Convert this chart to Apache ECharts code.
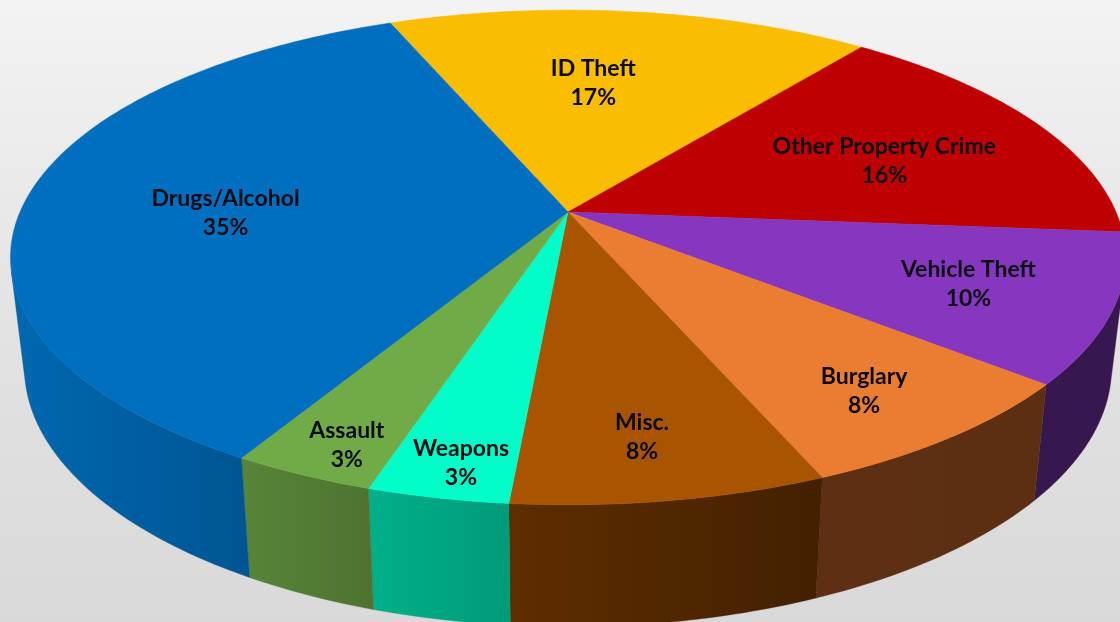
<!DOCTYPE html>
<html>
<head>
<meta charset="utf-8">
<style>html,body{margin:0;padding:0;background:#e6e6e6}#c{width:1120px;height:622px}</style>
<script src="https://cdn.jsdelivr.net/npm/echarts@6/dist/echarts.min.js"></script>
</head>
<body>
<div id="c"></div>
<script>
// Data (clockwise from the ID Theft slice)
const categories = ['ID Theft','Other Property Crime','Vehicle Theft','Burglary','Misc.','Weapons','Assault','Drugs/Alcohol'];
const sliceShares = [16.7,15.8,9.7,7.7,7.7,3.45,3.5,35.45];
const percentLabels = ['17%','16%','10%','8%','8%','3%','3%','35%'];

// Styling
const topColors = ['#FBBD00','#BE0000','#8736BF','#EB7D32','#A85400','#00FFC8','#70AB48','#006FBF'];
const sideLeft  = ['#7d5e00','#5e0000','#36184F','#5E2F13','#5F2E00','#00B08A','#578539','#0068B0'];
const sideRight = ['#7d5e00','#5e0000','#36184F','#5C2E12','#432000','#009B79','#4E7330','#005592'];
const labelRadius = [0.605,0.643,0.748,0.81,0.808,0.893,0.892,0.625];
const labelAngleNudge = [-2.9,3,0,0.6,0.6,-0.7,-1.2,-3.8];
const firstAngle = -22.3;
const visibleSideFrom = 104, visibleSideTo = 256;

// Perspective projection of the pie disc
const cx = 568, cy = 212, a = 548, b = 239, k = 0.1838;
function projTop(deg, r) {
  const t = deg * Math.PI / 180, u = Math.sin(t) * r, v = -Math.cos(t) * r, w = 1 - k * v;
  return [cx + a * u / w, cy + b * v / w];
}
function projBottom(deg) {
  const p = projTop(deg, 1);
  return [cx + 0.975 * (p[0] - cx), cy + 107.6 + 1.0485 * (p[1] - cy)];
}
function arc(fn, s, e) {
  const n = Math.max(2, Math.ceil(Math.abs(e - s))), out = [];
  for (let i = 0; i <= n; i++) out.push(fn(s + (e - s) * i / n));
  return out;
}

// Build [start, end, index] rows through the shares
let acc = firstAngle;
const rows = sliceShares.map((v, i) => {
  const s = acc, e = acc + v * 3.6;
  acc = e;
  return [s, e, i];
});

const sideSeries = {
  type: 'custom', coordinateSystem: 'none', silent: true, z: 1, data: rows,
  renderItem(params, api) {
    const s = Math.max(api.value(0), visibleSideFrom), e = Math.min(api.value(1), visibleSideTo), i = api.value(2);
    if (e <= s) return { type: 'group', children: [] };
    const top = arc(d => projTop(d, 1), s, e), bot = arc(projBottom, s, e).reverse();
    return {
      type: 'polygon', shape: { points: top.concat(bot) },
      style: {
        fill: new echarts.graphic.LinearGradient(0, 0, 1, 0, [
          { offset: 0, color: sideLeft[i] },
          { offset: 1, color: sideRight[i] }
        ]),
        stroke: sideRight[i], lineWidth: 0.4
      }
    };
  }
};

const topSeries = {
  type: 'custom', coordinateSystem: 'none', silent: true, z: 2, data: rows,
  renderItem(params, api) {
    const s = api.value(0), e = api.value(1), i = api.value(2);
    const pts = [[cx, cy]].concat(arc(d => projTop(d, 1), s, e));
    return {
      type: 'polygon', shape: { points: pts },
      style: { fill: topColors[i], stroke: topColors[i], lineWidth: 0.5 }
    };
  }
};

const labelSeries = {
  type: 'custom', coordinateSystem: 'none', silent: true, z: 3, data: rows,
  renderItem(params, api) {
    const i = api.value(2), mid = (api.value(0) + api.value(1)) / 2 + labelAngleNudge[i];
    const p = projTop(mid, labelRadius[i]);
    return {
      type: 'text',
      style: {
        x: p[0], y: p[1] + 1, align: 'center', verticalAlign: 'middle',
        text: categories[i] + '\n' + percentLabels[i],
        fill: '#0b0b14', lineHeight: 29,
        font: 'bold 23px Lato, "Open Sans", sans-serif'
      }
    };
  }
};

const chart = echarts.init(document.getElementById('c'), null, { renderer: 'canvas' });
chart.setOption({
  animation: false,
  backgroundColor: new echarts.graphic.LinearGradient(0, 0, 0, 1, [
    { offset: 0, color: '#F3F3F3' },
    { offset: 0.55, color: '#E2E2E2' },
    { offset: 1, color: '#D9D9D9' }
  ]),
  series: [sideSeries, topSeries, labelSeries]
});
</script>
</body>
</html>
